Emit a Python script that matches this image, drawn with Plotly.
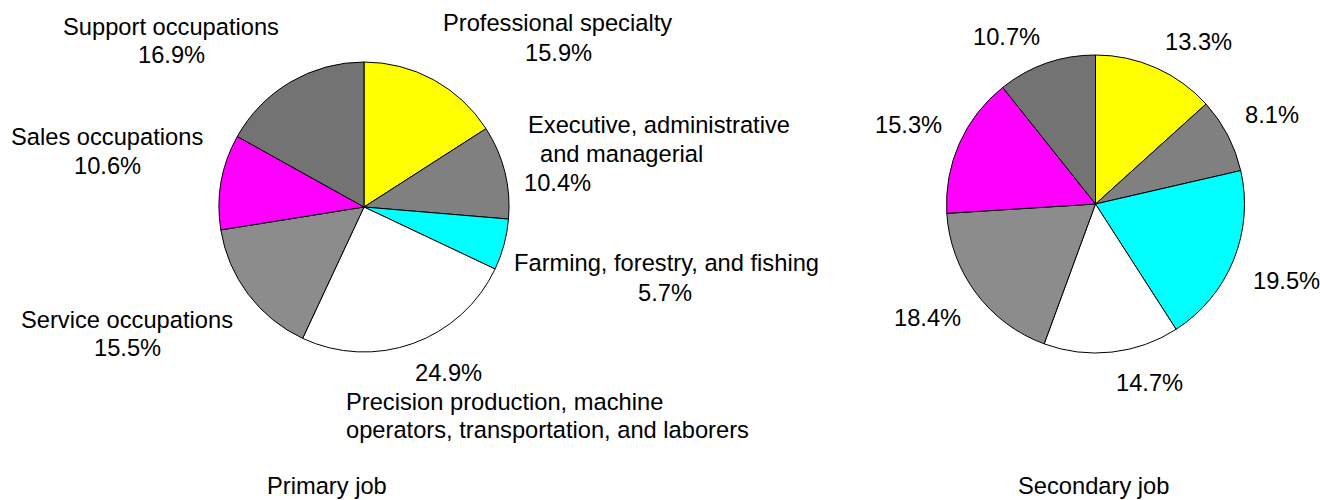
import plotly.graph_objects as go

W, H = 1320, 500

categories = [
    "Professional specialty",
    "Executive, administrative and managerial",
    "Farming, forestry, and fishing",
    "Precision production, machine operators, transportation, and laborers",
    "Service occupations",
    "Sales occupations",
    "Support occupations",
]
primary_values = [15.9, 10.4, 5.7, 24.9, 15.5, 10.6, 16.9]
secondary_values = [13.3, 8.1, 19.5, 14.7, 18.4, 15.3, 10.7]
slice_colors = ["#FFFF00", "#808080", "#00FFFF", "#FFFFFF", "#8C8C8C", "#FF00FF", "#737373"]
panel_titles = ["Primary job", "Secondary job"]

FONT = "Liberation Sans, Arial, sans-serif"
FS = 23.7


def px_domain(cx, cy, r):
    return dict(x=[(cx - r) / W, (cx + r) / W], y=[(H - cy - r) / H, (H - cy + r) / H])


fig = go.Figure()
for vals, dom, name in [
    (primary_values, px_domain(364, 207, 145), panel_titles[0]),
    (secondary_values, px_domain(1095.5, 204, 149), panel_titles[1]),
]:
    fig.add_trace(go.Pie(
        labels=categories,
        values=vals,
        sort=False,
        direction="clockwise",
        rotation=0,
        textinfo="none",
        hoverinfo="label+value",
        marker=dict(colors=slice_colors, line=dict(color="#000000", width=1)),
        domain=dom,
        name=name,
        showlegend=False,
    ))

annots = []


def add(text, x, y, anchor="center", align="center"):
    annots.append(dict(
        text=text, x=x / W, y=1 - y / H, xref="paper", yref="paper",
        xanchor=anchor, yanchor="middle", align=align, showarrow=False,
        font=dict(family=FONT, size=FS, color="#000000"),
    ))


def pct(v):
    return f"{v}%"


# Primary job labels
add(categories[0], 557, 23)
add(pct(primary_values[0]), 558, 53)
add("Executive, administrative", 526, 125, "left")
add("and managerial", 538, 154, "left")
add(pct(primary_values[1]), 522, 183, "left")
add(categories[2], 666, 263)
add(pct(primary_values[2]), 665, 293)
add(pct(primary_values[3]), 448, 373)
add("Precision production, machine", 344, 402, "left")
add("operators, transportation, and laborers", 344, 430, "left")
add(categories[4], 127, 320)
add(pct(primary_values[4]), 127, 348)
add(categories[5], 107, 137)
add(pct(primary_values[5]), 107, 166)
add(categories[6], 171, 27)
add(pct(primary_values[6]), 171, 55)
add(panel_titles[0], 327, 486)

# Secondary job labels
sec_pos = [(1198, 42), (1272, 115), (1286, 281), (1149, 383), (927, 318), (908, 125), (1006, 37)]
for v, (x, y) in zip(secondary_values, sec_pos):
    add(pct(v), x, y)
add(panel_titles[1], 1093, 486)

fig.update_layout(
    width=W, height=H,
    margin=dict(l=0, r=0, t=0, b=0),
    paper_bgcolor="#FFFFFF",
    plot_bgcolor="#FFFFFF",
    annotations=annots,
    font=dict(family=FONT, size=FS, color="#000000"),
)

fig.write_html(
    "out.html",
    config={"displayModeBar": False},
    post_script="document.body.style.margin='0px';document.body.style.overflow='hidden';",
)
